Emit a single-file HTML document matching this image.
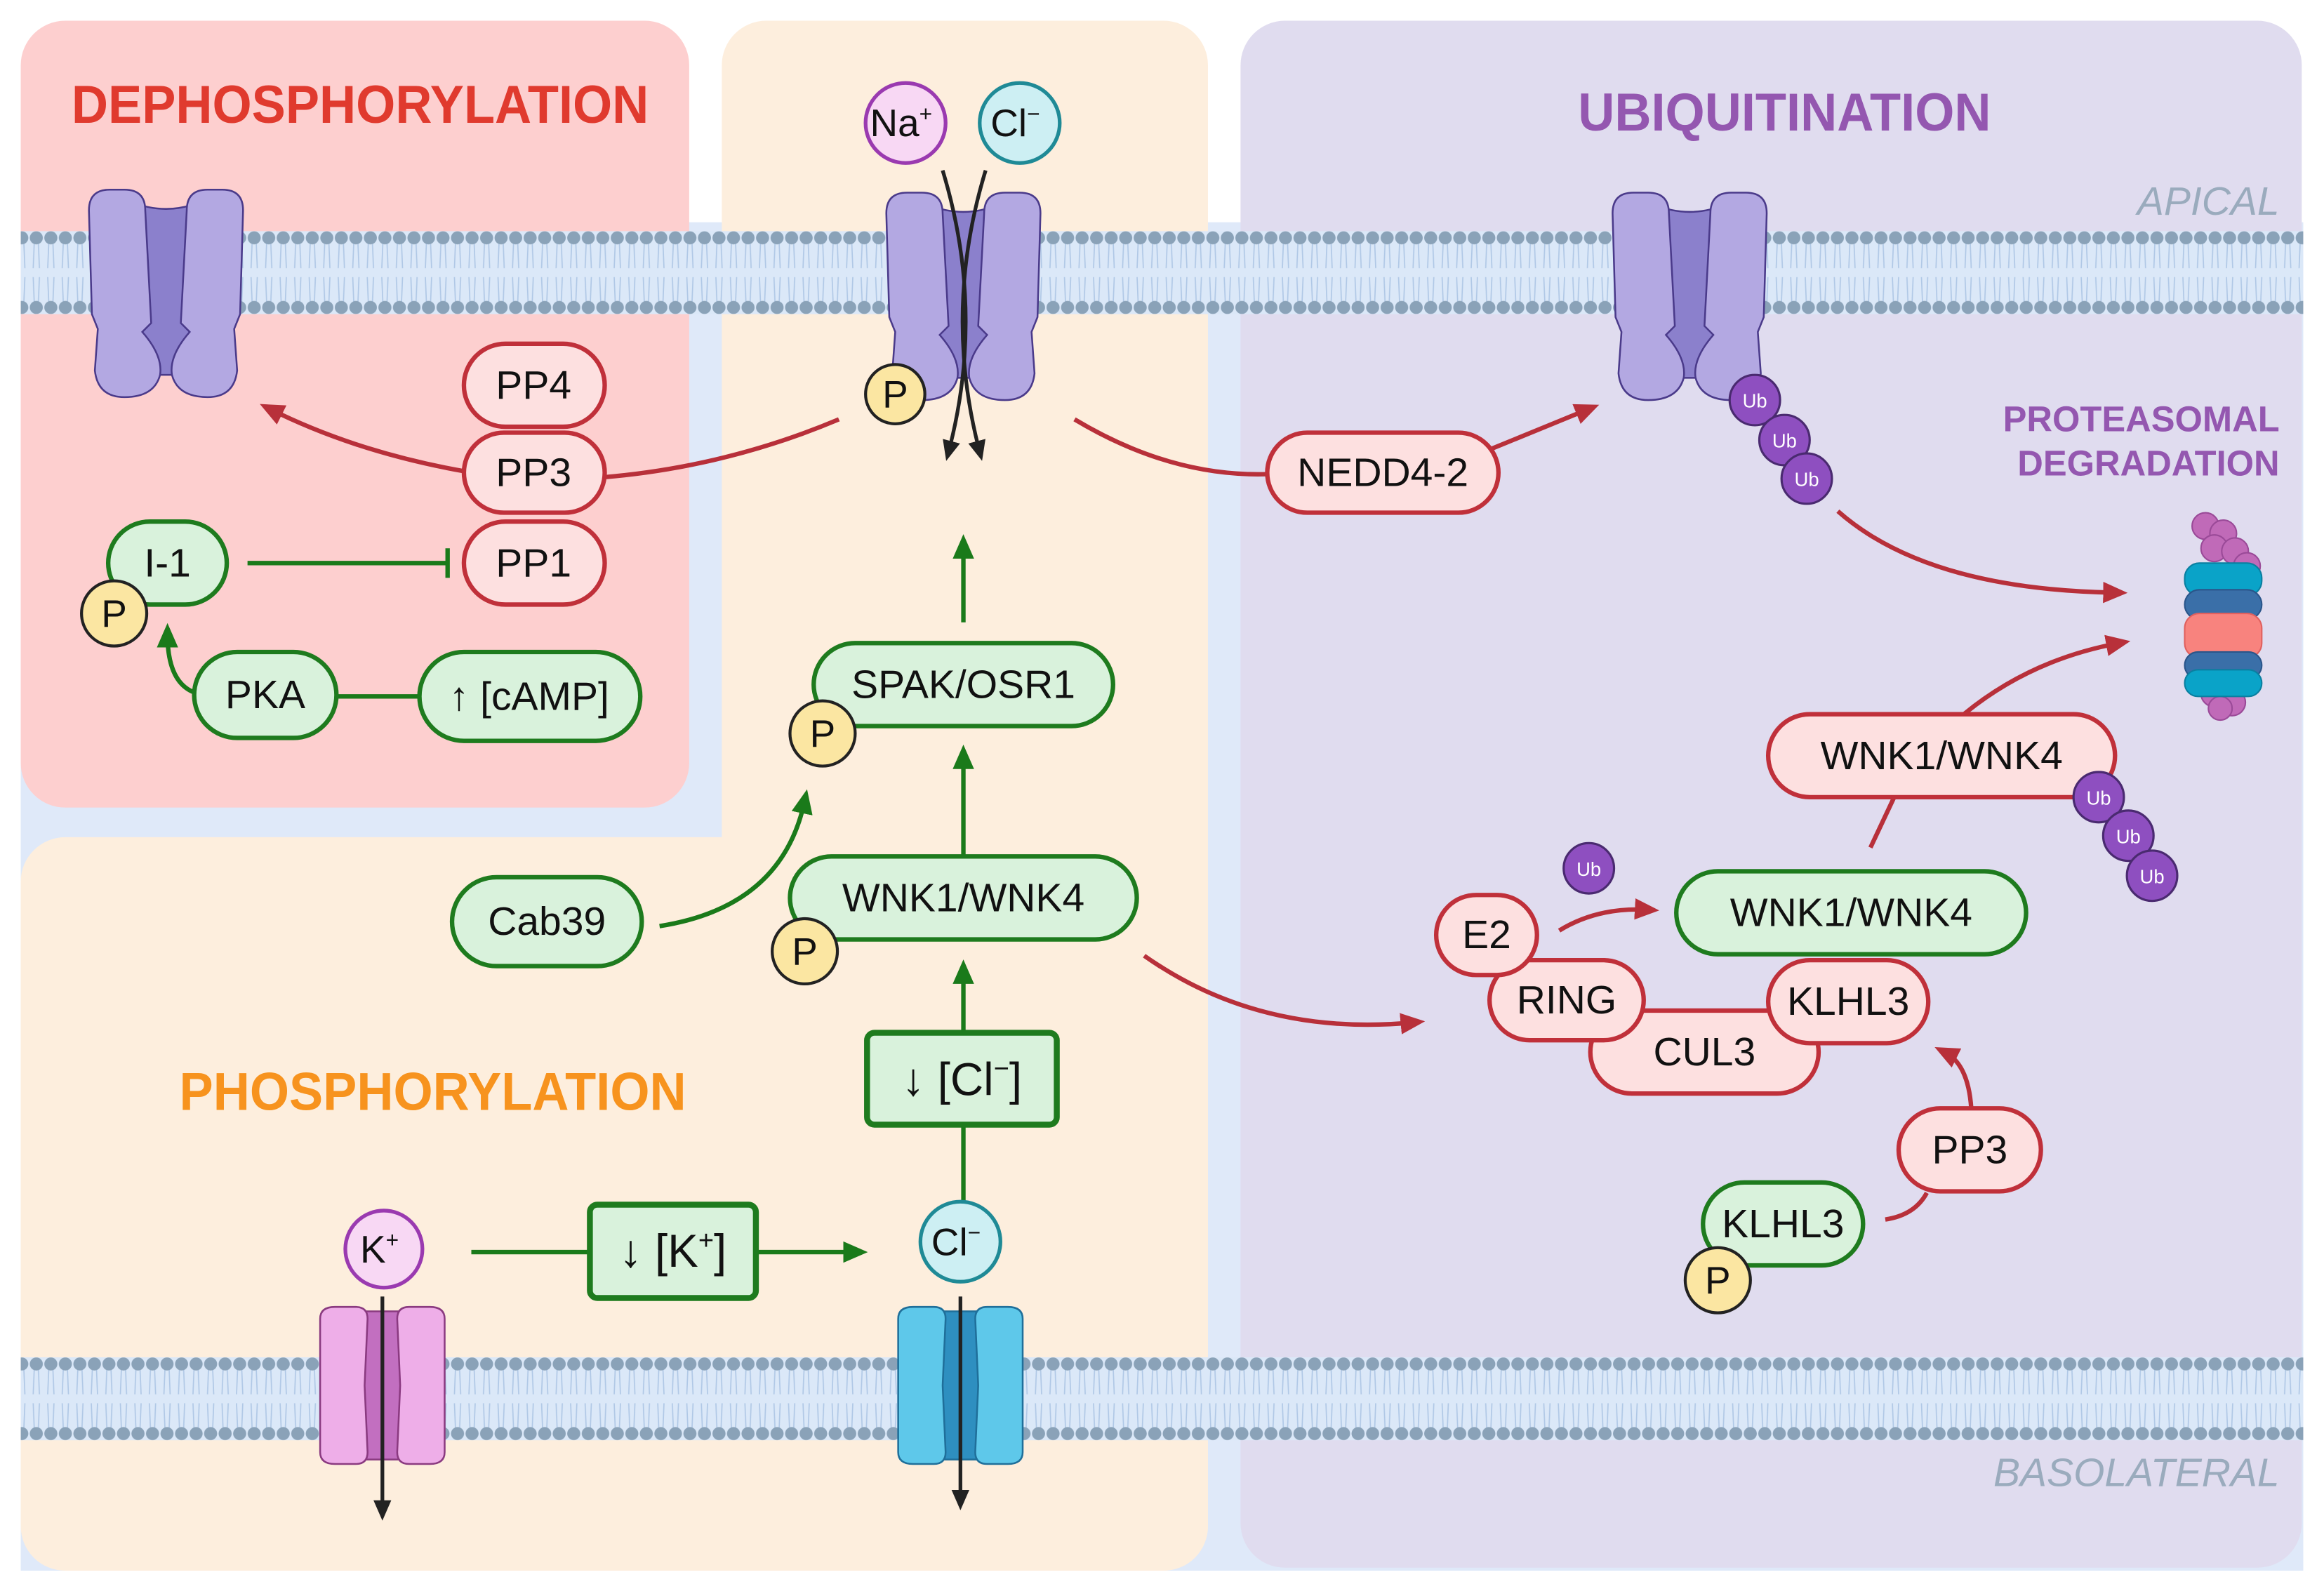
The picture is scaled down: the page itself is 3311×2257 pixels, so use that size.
<!DOCTYPE html>
<html><head><meta charset="utf-8"><style>
html,body{margin:0;padding:0;background:#fff}
svg{display:block}
text{font-family:"Liberation Sans",sans-serif}
</style></head><body>
<svg width="3311" height="2257" viewBox="0 0 1568 1069" preserveAspectRatio="none" xmlns="http://www.w3.org/2000/svg">
<defs>
<marker id="mr" markerWidth="6" markerHeight="6" refX="3" refY="3" orient="auto" markerUnits="strokeWidth"><path d="M0,0.6 L5.5,3 L0,5.4 Z" fill="#b8303a"/></marker>
<marker id="mg" markerWidth="6" markerHeight="6" refX="3" refY="3" orient="auto" markerUnits="strokeWidth"><path d="M0,0.6 L5.5,3 L0,5.4 Z" fill="#1a7a1a"/></marker>
<marker id="mk" markerWidth="6" markerHeight="6" refX="3" refY="3" orient="auto" markerUnits="strokeWidth"><path d="M0,0.6 L5.5,3 L0,5.4 Z" fill="#222"/></marker>
<pattern id="heads1" x="0" y="156" width="9.8" height="56" patternUnits="userSpaceOnUse">
<rect width="9.8" height="56" fill="#dbe8f8"/>
<path d="M3.5,8 L2.8,25 M6.3,8 L7,25 M2.8,31 L3.5,48 M7,31 L6.3,48" stroke="#b0c8e6" stroke-width="0.8" fill="none"/>
<circle cx="4.9" cy="4.5" r="4.4" fill="#8aa2b8"/>
<circle cx="4.9" cy="51.5" r="4.4" fill="#8aa2b8"/>
</pattern>
<pattern id="heads2" x="0" y="916" width="9.8" height="56" patternUnits="userSpaceOnUse">
<rect width="9.8" height="56" fill="#dbe8f8"/>
<path d="M3.5,8 L2.8,25 M6.3,8 L7,25 M2.8,31 L3.5,48 M7,31 L6.3,48" stroke="#b0c8e6" stroke-width="0.8" fill="none"/>
<circle cx="4.9" cy="4.5" r="4.4" fill="#8aa2b8"/>
<circle cx="4.9" cy="51.5" r="4.4" fill="#8aa2b8"/>
</pattern>
<g id="chan">
<path d="M-24,-62 Q0,-52 24,-62 L24,55 L-24,55 Z" fill="#8b80cc" stroke="#4a3a8a" stroke-width="1.2"/>
<path d="M-52,-56 Q-52,-70 -38,-70 L-28,-70 Q-14,-70 -14,-56 L-10,20 L-16,26 Q-2,42 -4,55 Q-8,70 -28,70 Q-46,70 -48,52 L-46,24 L-50,14 Z" fill="#b3a8e2" stroke="#4a3a8a" stroke-width="1.2"/>
<path d="M52,-56 Q52,-70 38,-70 L28,-70 Q14,-70 14,-56 L10,20 L16,26 Q2,42 4,55 Q8,70 28,70 Q46,70 48,52 L46,24 L50,14 Z" fill="#b3a8e2" stroke="#4a3a8a" stroke-width="1.2"/>
</g>
</defs>

<rect x="0" y="0" width="1568" height="1069" fill="#fff"/>
<rect x="14" y="150" width="1540" height="910" fill="#dfe9f9"/>
<rect x="14" y="14" width="451" height="531" rx="30" fill="#fdcfcf"/>
<rect x="487" y="14" width="328" height="1046" rx="30" fill="#fdeedd"/>
<rect x="14" y="565" width="801" height="495" rx="30" fill="#fdeedd"/>
<rect x="837" y="14" width="716" height="1044" rx="30" fill="#e0dcef"/>

<!-- membranes -->
<rect x="14" y="156" width="1540" height="56" fill="url(#heads1)"/>
<rect x="14" y="916" width="1540" height="56" fill="url(#heads2)"/>

<!-- titles -->
<text x="243" y="83" font-size="36" font-weight="bold" fill="#e03a2e" text-anchor="middle" transform="translate(243 0) scale(0.95 1) translate(-243 0)">DEPHOSPHORYLATION</text>
<text x="292" y="749" font-size="36" font-weight="bold" fill="#f7931e" text-anchor="middle" transform="translate(292 0) scale(0.95 1) translate(-292 0)">PHOSPHORYLATION</text>
<text x="1204" y="88" font-size="36" font-weight="bold" fill="#9457b0" text-anchor="middle" transform="translate(1204 0) scale(0.95 1) translate(-1204 0)">UBIQUITINATION</text>
<text x="1538" y="145" font-size="27" font-style="italic" fill="#9aabbd" text-anchor="end">APICAL</text>
<text x="1538" y="1003" font-size="27" font-style="italic" fill="#9aabbd" text-anchor="end">BASOLATERAL</text>
<text x="1538" y="291" font-size="24" font-weight="bold" fill="#9457b0" text-anchor="end">PROTEASOMAL</text>
<text x="1538" y="321" font-size="24" font-weight="bold" fill="#9457b0" text-anchor="end">DEGRADATION</text>

<!-- channels -->
<use href="#chan" x="112" y="198"/>
<use href="#chan" x="650" y="200"/>
<use href="#chan" x="1140" y="200"/>
<g stroke="#8a3a80" stroke-width="1.2">
<rect x="243" y="885" width="30" height="100" fill="#c26fc0"/>
<path d="M216,890 Q216,882 226,882 L240,882 Q248,882 248,890 L246,935 L248,980 Q248,988 240,988 L226,988 Q216,988 216,980 Z" fill="#eeaee8"/>
<path d="M300,890 Q300,882 290,882 L276,882 Q268,882 268,890 L270,935 L268,980 Q268,988 276,988 L290,988 Q300,988 300,980 Z" fill="#eeaee8"/>
</g>
<g stroke="#1f6f9a" stroke-width="1.2">
<rect x="633" y="885" width="30" height="100" fill="#2e8fc0"/>
<path d="M606,890 Q606,882 616,882 L630,882 Q638,882 638,890 L636,935 L638,980 Q638,988 630,988 L616,988 Q606,988 606,980 Z" fill="#5ec8ea"/>
<path d="M690,890 Q690,882 680,882 L666,882 Q658,882 658,890 L660,935 L658,980 Q658,988 666,988 L680,988 Q690,988 690,980 Z" fill="#5ec8ea"/>
</g>

<!-- black transport arrows -->
<g stroke="#222" stroke-width="2.5" fill="none">
<path d="M636,115 Q665,210 640,305" marker-end="url(#mk)"/>
<path d="M665,115 Q636,210 661,305" marker-end="url(#mk)"/>
<path d="M258,875 L258,1020" marker-end="url(#mk)"/>
<path d="M648,875 L648,1013" marker-end="url(#mk)"/>
</g>

<!-- red connectors -->
<g stroke="#b8303a" stroke-width="3" fill="none">
<path d="M313,318 Q240,305 182,276" marker-end="url(#mr)"/>
<path d="M566,283 Q490,315 408,322"/>
<path d="M725,283 Q790,322 855,320"/>
<path d="M1006,303 L1072,276" marker-end="url(#mr)"/>
<path d="M1240,345 Q1300,398 1428,400" marker-end="url(#mr)"/>
<path d="M1262,572 L1278,538"/>
<path d="M1325,482 Q1370,445 1430,434" marker-end="url(#mr)"/>
<path d="M1052,628 Q1078,612 1112,614" marker-end="url(#mr)"/>
<path d="M772,645 Q850,700 954,690" marker-end="url(#mr)"/>
<path d="M1272,823 Q1292,820 1300,805"/>
<path d="M1330,748 Q1328,718 1312,710" marker-end="url(#mr)"/>
</g>

<!-- green connectors -->
<g stroke="#1a7a1a" stroke-width="3" fill="none">
<path d="M167,380 L302,380 M302,370 L302,390"/>
<path d="M133,468 Q113,462 113,428" marker-end="url(#mg)"/>
<path d="M227,470 L283,470"/>
<path d="M445,625 Q528,612 543,540" marker-end="url(#mg)"/>
<path d="M650,578 L650,510" marker-end="url(#mg)"/>
<path d="M650,420 L650,368" marker-end="url(#mg)"/>
<path d="M650,697 L650,655" marker-end="url(#mg)"/>
<path d="M650,812 L650,760"/>
<path d="M318,845 L398,845"/>
<path d="M510,845 L578,845" marker-end="url(#mg)"/>
</g>

<!-- red nodes -->
<g fill="#fde0e0" stroke="#c0303a" stroke-width="3">
<rect x="313" y="232" width="95" height="56" rx="28"/>
<rect x="313" y="292" width="95" height="54" rx="27"/>
<rect x="313" y="352" width="95" height="56" rx="28"/>
<rect x="855" y="292" width="156" height="54" rx="27"/>
<rect x="1193" y="482" width="234" height="56" rx="28"/>
<rect x="1073" y="682" width="154" height="56" rx="28"/>
<rect x="1005" y="648" width="104" height="54" rx="27"/>
<rect x="1193" y="648" width="108" height="56" rx="28"/>
<rect x="969" y="604" width="68" height="54" rx="27"/>
<rect x="1281" y="748" width="96" height="56" rx="28"/>
</g>
<!-- green nodes -->
<g fill="#d9f2dc" stroke="#1e7b1e" stroke-width="3">
<rect x="73" y="352" width="80" height="56" rx="28"/>
<rect x="131" y="440" width="96" height="58" rx="29"/>
<rect x="283" y="440" width="149" height="60" rx="30"/>
<rect x="549" y="434" width="202" height="56" rx="28"/>
<rect x="533" y="578" width="234" height="56" rx="28"/>
<rect x="305" y="592" width="128" height="60" rx="30"/>
<rect x="1131" y="588" width="236" height="56" rx="28"/>
<rect x="1149" y="798" width="108" height="56" rx="28"/>
<rect x="585" y="697" width="128" height="62" rx="5" stroke-width="4"/>
<rect x="398" y="813" width="112" height="63" rx="5" stroke-width="4"/>
</g>

<g font-size="27" fill="#111" text-anchor="middle">
<text x="360" y="269">PP4</text>
<text x="360" y="328">PP3</text>
<text x="360" y="389">PP1</text>
<text x="933" y="328">NEDD4-2</text>
<text x="1310" y="519">WNK1/WNK4</text>
<text x="1150" y="719">CUL3</text>
<text x="1057" y="684">RING</text>
<text x="1247" y="685">KLHL3</text>
<text x="1003" y="640">E2</text>
<text x="1329" y="785">PP3</text>
<text x="113" y="389">I-1</text>
<text x="179" y="478">PKA</text>
<text x="357" y="479">↑ [cAMP]</text>
<text x="650" y="471">SPAK/OSR1</text>
<text x="650" y="615">WNK1/WNK4</text>
<text x="369" y="631">Cab39</text>
<text x="1249" y="625">WNK1/WNK4</text>
<text x="1203" y="835">KLHL3</text>
<text x="649" y="739" font-size="31">↓ [Cl<tspan font-size="18" dy="-12">−</tspan><tspan dy="12">]</tspan></text>
<text x="454" y="855" font-size="31">↓ [K<tspan font-size="18" dy="-12">+</tspan><tspan dy="12">]</tspan></text>
</g>

<!-- P circles -->
<g fill="#fbe6a2" stroke="#222" stroke-width="2">
<circle cx="77" cy="414" r="22"/><circle cx="604" cy="266" r="20"/><circle cx="555" cy="495" r="22"/><circle cx="543" cy="642" r="22"/><circle cx="1159" cy="864" r="22"/>
</g>
<g font-size="26" fill="#111" text-anchor="middle">
<text x="77" y="423">P</text><text x="604" y="275">P</text><text x="555" y="504">P</text><text x="543" y="651">P</text><text x="1159" y="873">P</text>
</g>

<!-- ions -->
<circle cx="611" cy="83" r="27" fill="#f8d8f4" stroke="#9a3ab0" stroke-width="2.5"/>
<circle cx="688" cy="83" r="27" fill="#cdeff3" stroke="#1f8a96" stroke-width="2.5"/>
<circle cx="259" cy="843" r="26" fill="#f8d8f4" stroke="#9a3ab0" stroke-width="2.5"/>
<circle cx="648" cy="838" r="27" fill="#cdeff3" stroke="#1f8a96" stroke-width="2.5"/>
<g font-size="26" fill="#111" text-anchor="middle">
<text x="608" y="92">Na<tspan font-size="15" dy="-10">+</tspan></text>
<text x="685" y="92">Cl<tspan font-size="15" dy="-10">−</tspan></text>
<text x="256" y="852">K<tspan font-size="15" dy="-10">+</tspan></text>
<text x="645" y="847">Cl<tspan font-size="15" dy="-10">−</tspan></text>
</g>

<!-- Ub -->
<g fill="#8e4fc0" stroke="#4a2a70" stroke-width="1.5">
<circle cx="1184" cy="270" r="17"/><circle cx="1204" cy="297" r="17"/><circle cx="1219" cy="323" r="17"/>
<circle cx="1072" cy="586" r="17"/>
<circle cx="1416" cy="538" r="17"/><circle cx="1436" cy="564" r="17"/><circle cx="1452" cy="591" r="17"/>
</g>
<g font-size="13" fill="#fff" text-anchor="middle">
<text x="1184" y="275">Ub</text><text x="1204" y="302">Ub</text><text x="1219" y="328">Ub</text>
<text x="1072" y="591">Ub</text>
<text x="1416" y="543">Ub</text><text x="1436" y="569">Ub</text><text x="1452" y="596">Ub</text>
</g>

<!-- proteasome -->
<g stroke-width="1">
<g fill="#c06ab8" stroke="#9a4a98">
<circle cx="1488" cy="355" r="9"/><circle cx="1500" cy="360" r="9"/><circle cx="1494" cy="370" r="9"/><circle cx="1508" cy="372" r="9"/><circle cx="1516" cy="382" r="9"/>
<circle cx="1484" cy="460" r="9"/><circle cx="1494" cy="468" r="9"/><circle cx="1506" cy="474" r="9"/><circle cx="1498" cy="478" r="8"/>
</g>
<rect x="1474" y="380" width="52" height="22" rx="10" fill="#0aa3c8" stroke="#0a7fa0"/>
<rect x="1474" y="398" width="52" height="20" rx="10" fill="#3a6fa8" stroke="#2a558a"/>
<rect x="1474" y="414" width="52" height="30" rx="10" fill="#f8837e" stroke="#e0605e"/>
<rect x="1474" y="440" width="52" height="18" rx="9" fill="#3a6fa8" stroke="#2a558a"/>
<rect x="1474" y="452" width="52" height="18" rx="9" fill="#0aa3c8" stroke="#0a7fa0"/>
</g>
</svg>
</body></html>
